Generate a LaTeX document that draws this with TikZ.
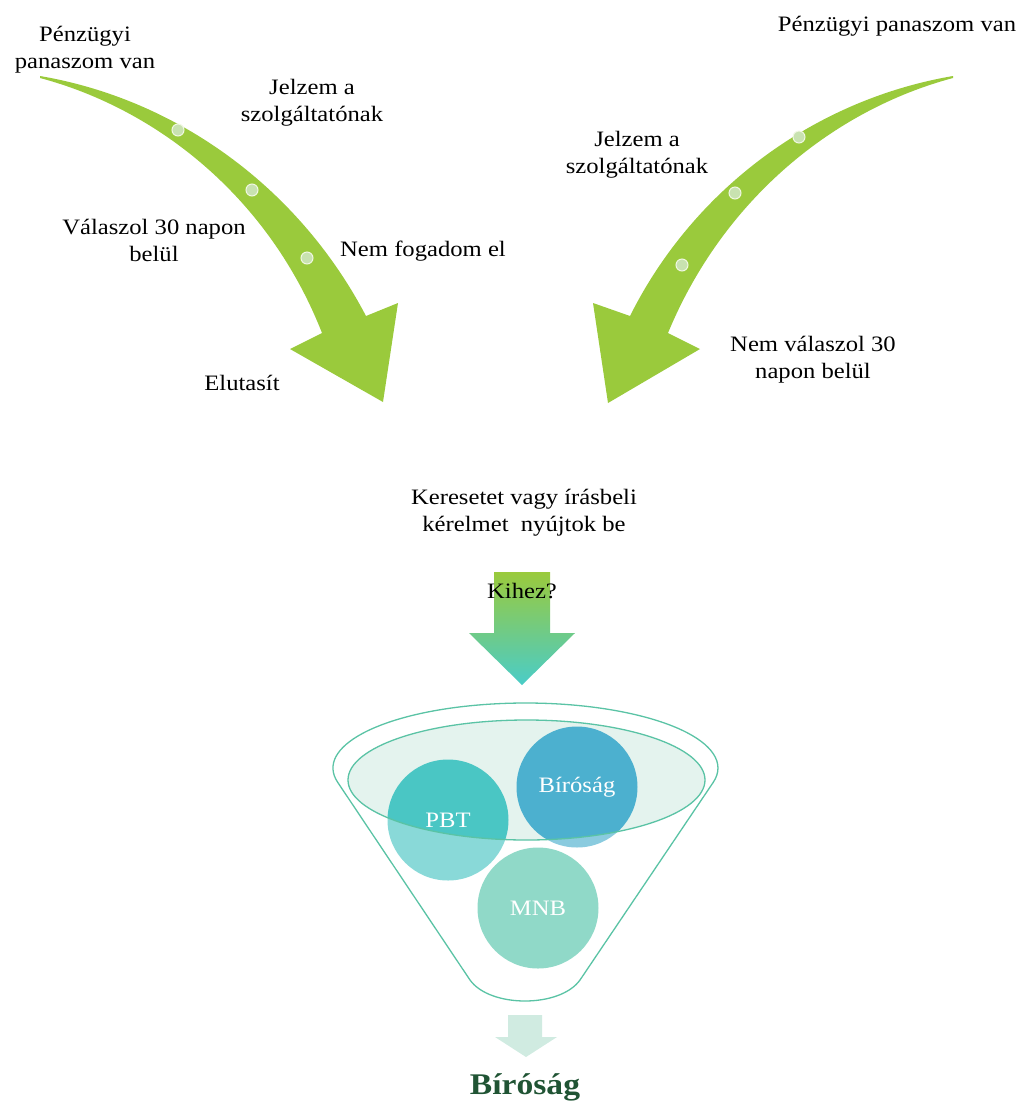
\documentclass[tikz,border=0pt]{standalone}
\usepackage{fontspec}
\setmainfont{Liberation Serif}[FakeStretch=1.12]
\usepackage{xcolor}
\usetikzlibrary{positioning, calc}

\definecolor{leafGreen}{RGB}{154,202,60}
\definecolor{dotFill}{RGB}{200,226,176}
\definecolor{arrowTeal}{RGB}{74,204,200}
\definecolor{funnelLine}{RGB}{90,195,165}
\definecolor{funnelTop}{RGB}{228,243,238}
\definecolor{pbtTeal}{RGB}{74,198,196}
\definecolor{courtBlue}{RGB}{76,176,207}
\definecolor{mnbMint}{RGB}{86,198,171}
\definecolor{outArrow}{RGB}{208,235,225}
\definecolor{darkGreen}{RGB}{32,84,52}

\begin{document}
\begin{tikzpicture}[
    x=1pt, y=-1pt,
    txt/.style={align=center, inner sep=0pt, font=\fontsize{22}{27}\selectfont},
    dot/.style={circle, fill=dotFill, draw=white!85!leafGreen, line width=1pt, minimum size=12pt, inner sep=0pt},
    ball/.style={circle, minimum size=121pt, inner sep=0pt, text=white, font=\fontsize{22}{27}\selectfont},
    rim/.style={draw=funnelLine, line width=1.3pt}
]
    \useasboundingbox (0,0) rectangle (1024,1104);

    % curved arrows
    \fill[leafGreen] (40,76) .. controls (180,100) and (300,190) .. (366,316) -- (398,303) -- (383,402)
        -- (290,349) -- (322,333) .. controls (270,200) and (160,110) .. (40,78) -- cycle;
    \fill[leafGreen] (953,76) .. controls (813,100) and (693,190) .. (630,316) -- (593,303) -- (608,403)
        -- (700,349) -- (668,333) .. controls (723,200) and (833,110) .. (953,78) -- cycle;

    \node[dot] (d1) at (178,130) {};
    \node[dot] (d2) at (252,190) {};
    \node[dot] (d3) at (307,258) {};
    \node[dot] (d4) at (799,137) {};
    \node[dot] (d5) at (735,193) {};
    \node[dot] (d6) at (682,265) {};

    \node[txt] (pzLeft) at (85,50) {Pénzügyi\\panaszom van};
    \node[txt] (jelLeft) at (312,103) {Jelzem a\\szolgáltatónak};
    \node[txt] (valasz) at (154,240) {Válaszol 30 napon\\belül};
    \node[txt] (nemFog) at (423,251) {Nem fogadom el};
    \node[txt] (elutasit) at (242,383) {Elutasít};

    \node[txt] (pzRight) at (897,26) {Pénzügyi panaszom van};
    \node[txt] (jelRight) at (637,155) {Jelzem a\\szolgáltatónak};
    \node[txt] (nemValasz) at (813,360) {Nem válaszol 30\\napon belül};

    \node[txt] (kereset) at (524,513) {Keresetet vagy írásbeli\\kérelmet\ \ nyújtok be};

    % middle block arrow
    \shade[top color=leafGreen, bottom color=arrowTeal] (494,572) -- (550,572) -- (550,633) -- (575,633)
        -- (522,685) -- (469,633) -- (494,633) -- cycle;
    \node[txt] (kihez) at (522,591) {Kihez?};

    % funnel
    \fill[funnelTop] (526.5,780) ellipse[x radius=178.5pt, y radius=60pt];
    \node[ball, fill=pbtTeal] (pbt) at (448,820) {PBT};
    \node[ball, fill=courtBlue] (birosagBall) at (577,787) {Bíróság};
    \node[ball, fill=mnbMint] (mnb) at (538,908) {MNB};
    \fill[white, fill opacity=0.35, even odd rule]
        (337.7,782.3) arc[start angle=192.7, end angle=-12.7, x radius=192.5pt, y radius=65pt] -- (580,980)
        .. controls (560,1008) and (490,1008) .. (470,980) -- cycle
        (526.5,780) ellipse[x radius=178.5pt, y radius=60pt];
    \draw[rim] (526.5,780) ellipse[x radius=178.5pt, y radius=60pt];
    \draw[rim] (337.7,782.3) arc[start angle=192.7, end angle=-12.7, x radius=192.5pt, y radius=65pt]
        -- (580,980) .. controls (560,1008) and (490,1008) .. (470,980) -- cycle;

    \fill[outArrow] (508,1015) -- (542,1015) -- (542,1037) -- (557,1037) -- (526,1057) -- (495,1037)
        -- (508,1037) -- cycle;
    \node[txt, font=\fontsize{30}{36}\selectfont\bfseries, text=darkGreen] (birosag) at (525,1087) {Bíróság};
\end{tikzpicture}
\end{document}
